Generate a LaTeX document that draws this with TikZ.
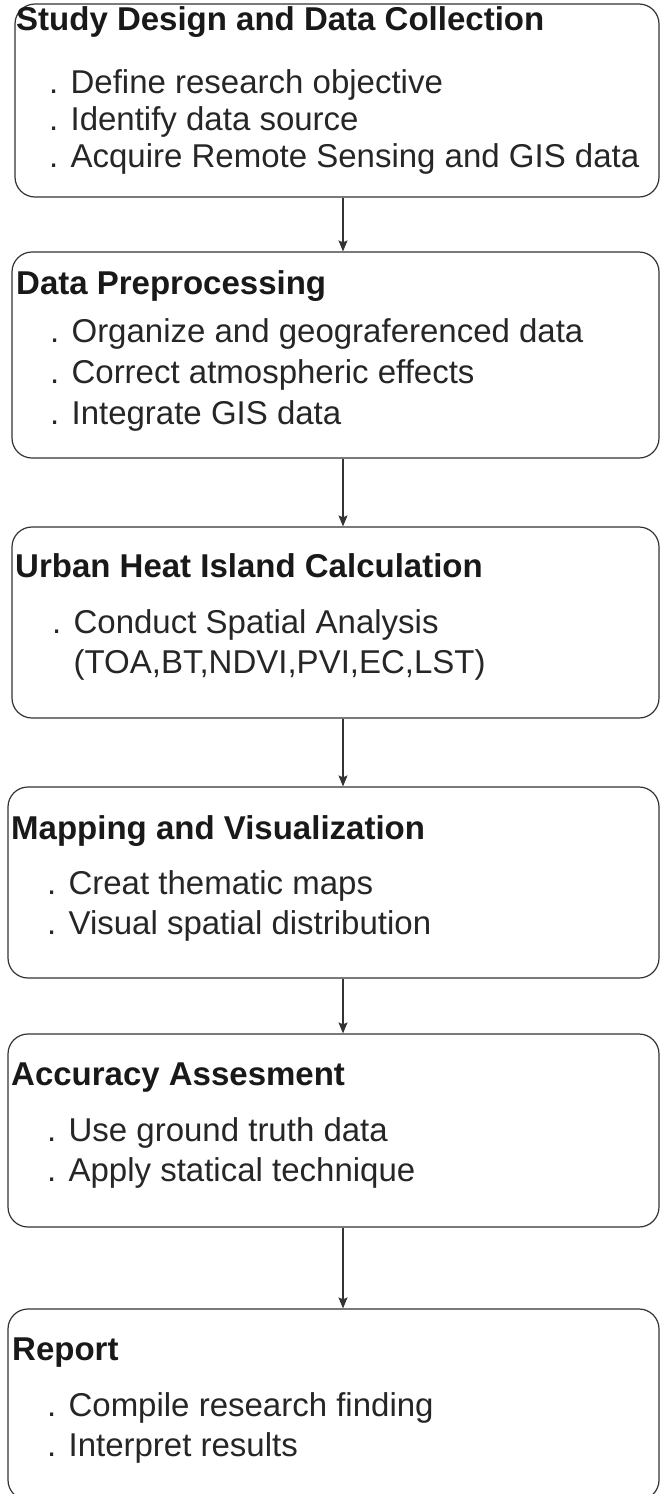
\documentclass[tikz,border=0pt]{standalone}
\usepackage{fontspec}
\setmainfont{Liberation Sans}
\usetikzlibrary{arrows.meta}

\begin{document}
\begin{tikzpicture}[x=1pt, y=-1pt,
    stage/.style={draw=black!80, line width=1.2pt, rounded corners=20pt, inner sep=0pt},
    heading/.style={anchor=base west, inner sep=0pt, text=black!90, font=\fontsize{33}{40}\selectfont\bfseries},
    points/.style={anchor=base west, inner sep=0pt, align=left, text=black!85, font=\fontsize{33}{40}\selectfont},
    flow/.style={-{Stealth[length=11pt, width=9pt, inset=2pt]}, line width=1.1pt, black!80}]

    \useasboundingbox (0,0) rectangle (660,1494);
    \coordinate (spine) at (343,0);

    % boxes
    \node[stage, minimum width=644pt, minimum height=193pt](Study) at (337,100.5) {};
    \node[stage, minimum width=647pt, minimum height=206pt](Prep) at (335.5,355) {};
    \node[stage, minimum width=647pt, minimum height=191pt](Heat) at (335.5,622.5) {};
    \node[stage, minimum width=651pt, minimum height=191pt](Mapping) at (333.5,882.5) {};
    \node[stage, minimum width=651pt, minimum height=193pt](Accuracy) at (333.5,1130.5) {};
    \node[stage, minimum width=651pt, minimum height=191pt](Report) at (333.5,1404.5) {};

    % titles
    \node[heading](StudyTitle) at (16,30) {Study Design and Data Collection};
    \node[heading](PrepTitle) at (16,294) {Data Preprocessing};
    \node[heading](HeatTitle) at (15,577) {Urban Heat Island Calculation};
    \node[heading](MappingTitle) at (11,839) {Mapping and Visualization};
    \node[heading](AccuracyTitle) at (11,1085) {Accuracy Assesment};
    \node[heading](ReportTitle) at (12,1360) {Report};

    % items (placed by the baseline of their last line)
    \node[points, font=\fontsize{33}{37}\selectfont](StudyList) at (49,167) {. Define research objective\\. Identify data source\\. Acquire Remote Sensing and GIS data};
    \node[points, font=\fontsize{33}{41}\selectfont](PrepList) at (50,424) {. Organize and geograferenced data\\. Correct atmospheric effects\\. Integrate GIS data};
    \node[points](HeatList) at (52,673) {. Conduct Spatial Analysis\\\hphantom{. }(TOA,BT,NDVI,PVI,EC,LST)};
    \node[points](MappingList) at (47,934) {. Creat thematic maps\\. Visual spatial distribution};
    \node[points](AccuracyList) at (47,1181) {. Use ground truth data\\. Apply statical technique};
    \node[points](ReportList) at (47,1456) {. Compile research finding\\. Interpret results};

    % connectors
    \draw[flow] (Study.south -| spine) -- (Prep.north -| spine);
    \draw[flow] (Prep.south -| spine) -- (Heat.north -| spine);
    \draw[flow] (Heat.south -| spine) -- (Mapping.north -| spine);
    \draw[flow] (Mapping.south -| spine) -- (Accuracy.north -| spine);
    \draw[flow] (Accuracy.south -| spine) -- (Report.north -| spine);
\end{tikzpicture}
\end{document}
